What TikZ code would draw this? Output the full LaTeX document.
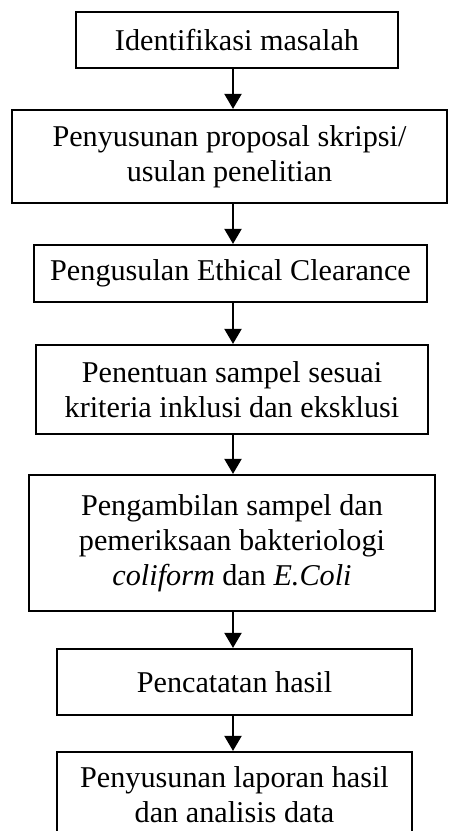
\documentclass[tikz,border=0pt]{standalone}
\usepackage{fontspec}
\setmainfont{Liberation Serif}
\usetikzlibrary{arrows.meta}
\begin{document}
\begin{tikzpicture}[x=1pt,y=1pt,
  stepbox/.style={draw, line width=2.2pt, inner sep=0pt, align=center,
    font=\fontsize{30.2}{35}\selectfont},
  flow/.style={line width=2pt, -{Triangle[width=17pt,length=15pt]}}]
\useasboundingbox (0,0) rectangle (450,-831);
\clip (0,0) rectangle (450,-831);
\node[stepbox, minimum width=322pt, minimum height=56pt] (b1) at (237,-40) {Identifikasi masalah};
\node[stepbox, minimum width=435pt, minimum height=93pt] (b2) at (229.5,-156.5) {Penyusunan proposal skripsi/\\usulan penelitian};
\node[stepbox, minimum width=393pt, minimum height=57pt] (b3) at (230.5,-273.5) {Pengusulan Ethical Clearance};
\node[stepbox, minimum width=392pt, minimum height=89pt] (b4) at (232,-389.5) {Penentuan sampel sesuai\\kriteria inklusi dan eksklusi};
\node[stepbox, minimum width=406pt, minimum height=136pt] (b5) at (232,-543) {Pengambilan sampel dan\\pemeriksaan bakteriologi\\\textit{coliform} dan \textit{E.Coli}};
\node[stepbox, minimum width=355pt, minimum height=66pt] (b6) at (234.5,-682) {Pencatatan hasil};
\node[stepbox, minimum width=355pt, minimum height=86pt] (b7) at (234.5,-795) {Penyusunan laporan hasil\\dan analisis data};
\coordinate (ax) at (233,0);
\draw[flow] (b1.south -| ax) -- (b2.north -| ax);
\draw[flow] (b2.south -| ax) -- (b3.north -| ax);
\draw[flow] (b3.south -| ax) -- (b4.north -| ax);
\draw[flow] (b4.south -| ax) -- (b5.north -| ax);
\draw[flow] (b5.south -| ax) -- (b6.north -| ax);
\draw[flow] (b6.south -| ax) -- (b7.north -| ax);
\end{tikzpicture}
\end{document}
